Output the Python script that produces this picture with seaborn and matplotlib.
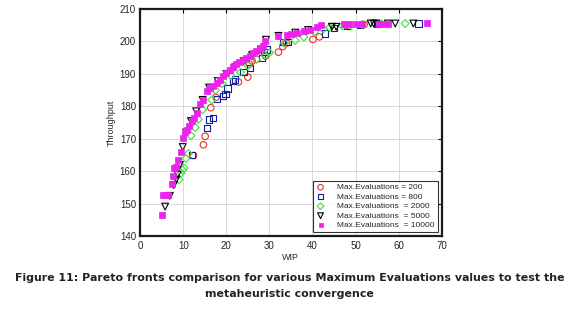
import numpy as np
import pandas as pd
import seaborn as sns
import matplotlib.pyplot as plt

# Pareto fronts (WIP, Throughput) per Max.Evaluations value
wip_200 = [12.4, 14.7, 15.1, 16.4, 17.6, 22.8, 25.0, 25.4, 26.0, 27.0, 29.1, 32.1, 33.1, 34.0, 40.1, 41.6, 48.0, 52.0]
thr_200 = [164.9, 168.2, 170.8, 179.6, 182.8, 187.5, 189.0, 193.0, 194.0, 194.5, 195.5, 196.7, 198.4, 199.5, 200.6, 201.4, 205.0, 205.2]

wip_800 = [12.0, 15.5, 15.9, 17.0, 17.8, 19.3, 19.8, 20.3, 21.6, 22.0, 24.0, 25.5, 28.3, 28.7, 29.5, 33.1, 34.3, 42.9, 45.0, 48.0, 51.0, 55.0, 64.6]
thr_800 = [165.0, 173.4, 176.0, 176.5, 182.3, 183.2, 183.8, 185.5, 187.8, 188.3, 190.5, 191.8, 195.0, 196.8, 197.5, 199.8, 199.8, 202.4, 204.0, 204.8, 205.0, 205.4, 205.5]

wip_2000 = [9.0, 9.5, 9.8, 10.2, 10.6, 11.2, 11.8, 12.8, 13.5, 14.5, 16.6, 17.5, 19.0, 21.0, 23.3, 25.0, 27.0, 29.0, 30.0, 33.5, 36.0, 38.0, 40.5, 42.5, 44.0, 47.0, 49.0, 51.5, 56.0, 61.5]
thr_2000 = [157.5, 159.5, 160.5, 161.0, 164.0, 165.5, 171.0, 173.5, 176.0, 179.0, 182.0, 185.0, 187.0, 189.5, 190.5, 192.5, 194.5, 195.8, 196.5, 199.5, 200.3, 201.3, 203.0, 203.8, 204.3, 204.8, 205.0, 205.2, 205.4, 205.5]

wip_5000 = [5.8, 6.9, 7.8, 8.4, 8.7, 9.2, 9.9, 10.7, 11.8, 13.0, 14.5, 16.0, 18.0, 20.0, 22.0, 24.0, 26.0, 28.0, 29.2, 32.1, 36.0, 39.0, 44.5, 45.5, 53.5, 54.2, 54.8, 57.5, 59.2, 63.4]
thr_5000 = [149.2, 152.5, 155.8, 157.5, 159.0, 162.0, 167.5, 172.0, 175.5, 178.5, 182.0, 185.8, 187.8, 190.0, 192.0, 194.0, 195.8, 197.5, 200.5, 201.7, 202.7, 203.5, 204.5, 204.5, 205.5, 205.5, 205.5, 205.5, 205.5, 205.5]

wip_10000 = [5.0, 5.4, 6.0, 6.4, 7.3, 7.7, 7.9, 8.3, 8.9, 9.4, 10.0, 10.5, 10.8, 11.3, 12.0, 12.4, 13.2, 13.9, 14.5, 15.5, 16.2, 17.0, 17.8, 18.5, 19.3, 20.0, 20.8, 21.5, 22.3, 23.0, 23.8, 24.6, 25.4, 26.2, 27.0, 27.8, 28.6, 29.0, 32.1, 34.0, 35.0, 36.4, 38.0, 39.5, 41.0, 42.0, 47.2, 48.5, 50.0, 51.5, 55.5, 56.5, 57.5, 66.5]
thr_10000 = [146.6, 152.8, 152.8, 152.8, 156.2, 158.5, 161.0, 161.5, 163.6, 166.0, 170.2, 172.0, 172.7, 174.0, 175.5, 176.5, 178.0, 180.6, 182.0, 184.7, 185.8, 186.2, 187.2, 188.0, 189.3, 190.2, 191.2, 192.0, 193.0, 193.8, 194.3, 195.0, 195.6, 196.3, 197.0, 197.8, 198.5, 200.1, 201.7, 202.0, 202.3, 202.7, 203.2, 203.6, 204.3, 205.0, 205.3, 205.3, 205.2, 205.4, 205.5, 205.5, 205.5, 205.8]

labels = ["Max.Evaluations = 200", "Max.Evaluations = 800", "Max.Evaluations  = 2000",
          "Max.Evaluations  = 5000", "Max.Evaluations  = 10000"]

sns.set_style("whitegrid")
plt.rcParams['font.family'] = ['Liberation Sans', 'DejaVu Sans']

fig = plt.figure(figsize=(5.79, 3.17), dpi=100)
ax = fig.add_axes([0.242, 0.254, 0.521, 0.718])

# open markers: red circles, blue squares, green diamonds, black triangles
sns.scatterplot(x=wip_200, y=thr_200, marker='o', s=22, facecolor='none', edgecolor='#e8312b', linewidth=0.8, label=labels[0], ax=ax)
sns.scatterplot(x=wip_800, y=thr_800, marker='s', s=20, facecolor='none', edgecolor='#0f1f9e', linewidth=0.8, label=labels[1], ax=ax)
sns.scatterplot(x=wip_2000, y=thr_2000, marker='D', s=16, facecolor='none', edgecolor='#3de23a', linewidth=0.8, label=labels[2], ax=ax)
sns.scatterplot(x=wip_5000, y=thr_5000, marker='v', s=24, facecolor='none', edgecolor='black', linewidth=0.8, label=labels[3], ax=ax)
sns.scatterplot(x=wip_10000, y=thr_10000, marker='s', s=17, color='#ee22ee', edgecolor='#ee22ee', linewidth=0.5, label=labels[4], ax=ax)

ax.set_xlim(0, 70)
ax.set_ylim(140, 210)
ax.set_xticks(range(0, 71, 10))
ax.set_yticks(range(140, 211, 10))
ax.set_xlabel('WIP', fontsize=6.5, labelpad=2)
ax.set_ylabel('Throughput', fontsize=6.5, labelpad=3)
ax.tick_params(labelsize=7, direction='in', length=3, top=True, right=True, pad=3, color='black')
ax.grid(True, color='#d9d9d9', linewidth=0.7)
for sp in ax.spines.values():
    sp.set_color('#1a1a1a')
    sp.set_linewidth(1.6)

leg = ax.legend(loc='lower right', fontsize=6, frameon=True, fancybox=False, edgecolor='black',
                borderpad=0.35, labelspacing=0.2, handletextpad=1.4, borderaxespad=0.5,
                handlelength=1.2, markerscale=0.85)
leg.get_frame().set_linewidth(0.8)

fig.text(0.5, 0.122, 'Figure 11: Pareto fronts comparison for various Maximum Evaluations values to test the',
         ha='center', va='center', fontsize=7.9, fontweight='bold', color='#222222', family=['DejaVu Sans'])
fig.text(0.5, 0.072, 'metaheuristic convergence', ha='center', va='center', fontsize=7.9, fontweight='bold',
         color='#222222', family=['DejaVu Sans'])

fig.savefig('out.png', dpi=100)
